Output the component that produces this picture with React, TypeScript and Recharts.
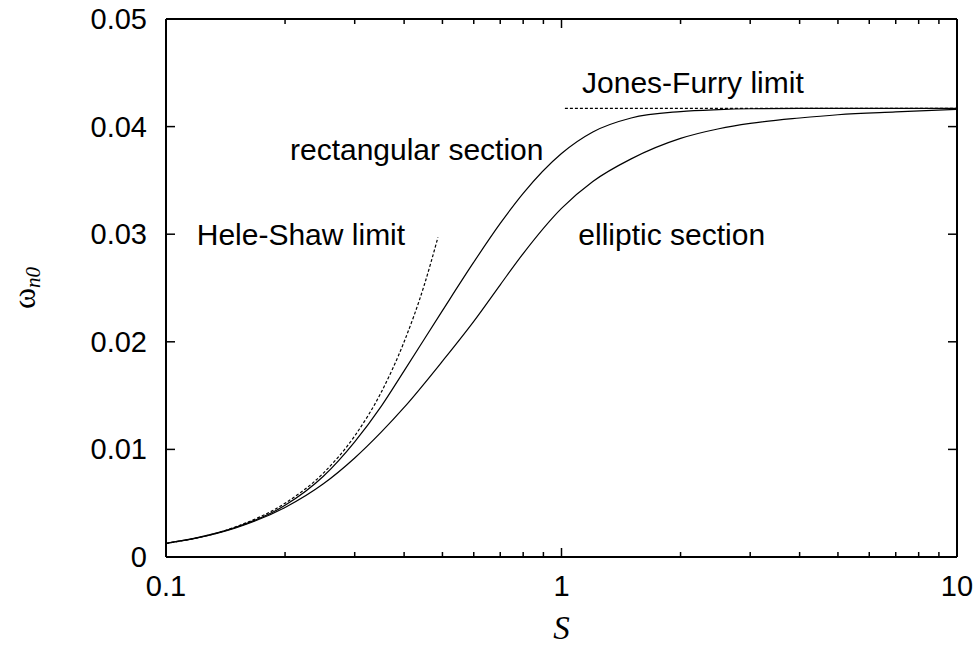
import React from 'react';
import { LineChart, Line, XAxis, YAxis, ReferenceDot, Label } from 'recharts';

// S values and eigenfrequency omega_n0 for the two cross-sections
const sGrid = [0.1, 0.12, 0.15, 0.2, 0.25, 0.3, 0.35, 0.4, 0.5, 0.6, 0.7, 0.8, 1, 1.2, 1.5, 2, 2.5, 3, 4, 5, 7, 10];
const omegaRect = [0.00127, 0.0018, 0.00275, 0.0048, 0.0075, 0.0107, 0.014, 0.0173, 0.0229, 0.0274, 0.031, 0.0338, 0.0375, 0.0395, 0.0408, 0.0414, 0.04158, 0.04166, 0.0417, 0.0417, 0.0417, 0.0417];
const omegaEllip = [0.00127, 0.00177, 0.0027, 0.0046, 0.0068, 0.0092, 0.0116, 0.0139, 0.0182, 0.0219, 0.0253, 0.0282, 0.0324, 0.0349, 0.037, 0.0389, 0.0398, 0.0403, 0.0408, 0.0411, 0.04136, 0.0416];

// Asymptotic limits
const sHeleShaw = [0.1, 0.15, 0.2, 0.25, 0.3, 0.35, 0.4, 0.45, 0.487];
const omegaHeleShaw = [0.00125, 0.0028, 0.005, 0.0078, 0.01125, 0.0153, 0.02, 0.0253, 0.0297];
const sJonesFurry = [1.02, 10];
const omegaJonesFurry = [0.0417, 0.0417];

// Axis ticks
const xTicks = [0.1, 0.2, 0.3, 0.4, 0.5, 0.6, 0.7, 0.8, 0.9, 1, 2, 3, 4, 5, 6, 7, 8, 9, 10];
const xMajor = [0.1, 1, 10];
const xMajorLabels = ['0.1', '1', '10'];
const yTicks = [0, 0.01, 0.02, 0.03, 0.04, 0.05];
const yTickLabels = ['0', '0.01', '0.02', '0.03', '0.04', '0.05'];

// Curve annotations (anchor at text start / baseline)
const notes = [
  { text: 'Hele-Shaw limit', s: 0.1196, w: 0.02902 },
  { text: 'rectangular section', s: 0.2058, w: 0.03693 },
  { text: 'Jones-Furry limit', s: 1.127, w: 0.04316 },
  { text: 'elliptic section', s: 1.103, w: 0.02902 },
];

const zip = (xs: number[], ys: number[]) => xs.map((s, i) => ({ s, w: ys[i] }));

const rectData = zip(sGrid, omegaRect);
const ellipData = zip(sGrid, omegaEllip);
const hsData = zip(sHeleShaw, omegaHeleShaw);
const jfData = zip(sJonesFurry, omegaJonesFurry);

const SANS = '"Liberation Sans", Arial, Helvetica, sans-serif';
const SERIF = '"Liberation Serif", "Times New Roman", serif';
const TICK_FS = 29;
const NOTE_FS = 30;

const majorIndex = (v: number) => xMajor.findIndex((m) => Math.abs(m - v) < 1e-9);

const XTickBottom = (props: any) => {
  const { x, y, payload } = props;
  const mi = majorIndex(payload.value);
  const len = mi >= 0 ? 9 : 5;
  return (
    <g>
      <line x1={x} x2={x} y1={y} y2={y - len} stroke="#000" strokeWidth={1.5} />
      {mi >= 0 && (
        <text x={x} y={y + 39} textAnchor="middle" fontSize={TICK_FS} fontFamily={SANS} fill="#000">
          {xMajorLabels[mi]}
        </text>
      )}
    </g>
  );
};

const XTickTop = (props: any) => {
  const { x, y, payload } = props;
  const len = majorIndex(payload.value) >= 0 ? 9 : 5;
  return <line x1={x} x2={x} y1={y} y2={y + len} stroke="#000" strokeWidth={1.5} />;
};

const YTickLeft = (props: any) => {
  const { x, y, index } = props;
  return (
    <g>
      <line x1={x} x2={x + 9} y1={y} y2={y} stroke="#000" strokeWidth={1.5} />
      <text x={x - 19} y={y + 10} textAnchor="end" fontSize={TICK_FS} fontFamily={SANS} fill="#000">
        {yTickLabels[index]}
      </text>
    </g>
  );
};

const YTickRight = (props: any) => {
  const { x, y } = props;
  return <line x1={x} x2={x - 9} y1={y} y2={y} stroke="#000" strokeWidth={1.5} />;
};

const noteContent = (text: string) => (props: any) => {
  const vb = props.viewBox || {};
  return (
    <text x={vb.x} y={vb.y} fontSize={NOTE_FS} fontFamily={SANS} fill="#000">
      {text}
    </text>
  );
};

const axisLine = { stroke: '#000', strokeWidth: 2 };

export default function App() {
  return (
    <div style={{ position: 'absolute', left: 0, top: 0, background: '#fff' }}>
      <LineChart width={976} height={647} margin={{ top: 0, right: 0, bottom: 0, left: 0 }}>
        <XAxis
          dataKey="s"
          type="number"
          scale="log"
          domain={[0.1, 10]}
          allowDataOverflow
          ticks={xTicks}
          interval={0}
          height={90}
          tickSize={0}
          tickMargin={0}
          tickLine={false}
          axisLine={axisLine}
          tick={XTickBottom}
          label={{
            content: (p: any) => {
              const vb = p.viewBox;
              return (
                <text
                  x={vb.x + vb.width / 2}
                  y={vb.y + 82}
                  textAnchor="middle"
                  fontSize={33}
                  fontStyle="italic"
                  fontFamily={SERIF}
                  fill="#000"
                >
                  S
                </text>
              );
            },
          }}
        />
        <XAxis
          xAxisId="top"
          orientation="top"
          dataKey="s"
          type="number"
          scale="log"
          domain={[0.1, 10]}
          allowDataOverflow
          ticks={xTicks}
          interval={0}
          height={19}
          tickSize={0}
          tickMargin={0}
          tickLine={false}
          axisLine={axisLine}
          tick={XTickTop}
        />
        <YAxis
          type="number"
          domain={[0, 0.05]}
          allowDataOverflow
          ticks={yTicks}
          interval={0}
          width={166}
          tickSize={0}
          tickMargin={0}
          tickLine={false}
          axisLine={axisLine}
          tick={YTickLeft}
          label={{
            content: (p: any) => {
              const vb = p.viewBox;
              const cx = vb.x + 35;
              const cy = vb.y + vb.height / 2;
              return (
                <text
                  transform={`translate(${cx},${cy}) rotate(-90)`}
                  x={0}
                  y={0}
                  textAnchor="middle"
                  fontFamily={SERIF}
                  fill="#000"
                >
                  <tspan fontSize={32}>ω</tspan>
                  <tspan fontSize={21} fontStyle="italic" dy={5}>n0</tspan>
                </text>
              );
            },
          }}
        />
        <YAxis
          yAxisId="right"
          orientation="right"
          type="number"
          domain={[0, 0.05]}
          allowDataOverflow
          ticks={yTicks}
          interval={0}
          width={19}
          tickSize={0}
          tickMargin={0}
          tickLine={false}
          axisLine={axisLine}
          tick={YTickRight}
        />

        <Line data={hsData} dataKey="w" type="monotone" stroke="#000" strokeWidth={1.2} strokeDasharray="3 2" dot={false} isAnimationActive={false} />
        <Line data={jfData} dataKey="w" type="linear" stroke="#000" strokeWidth={1.2} strokeDasharray="3 2" dot={false} isAnimationActive={false} />
        <Line data={rectData} dataKey="w" type="monotone" stroke="#000" strokeWidth={1.2} dot={false} isAnimationActive={false} />
        <Line data={ellipData} dataKey="w" type="monotone" stroke="#000" strokeWidth={1.2} dot={false} isAnimationActive={false} />

        {notes.map((n) => (
          <ReferenceDot key={n.text} x={n.s} y={n.w} r={0} fill="none" stroke="none" ifOverflow="visible">
            <Label content={noteContent(n.text)} />
          </ReferenceDot>
        ))}
      </LineChart>
    </div>
  );
}
